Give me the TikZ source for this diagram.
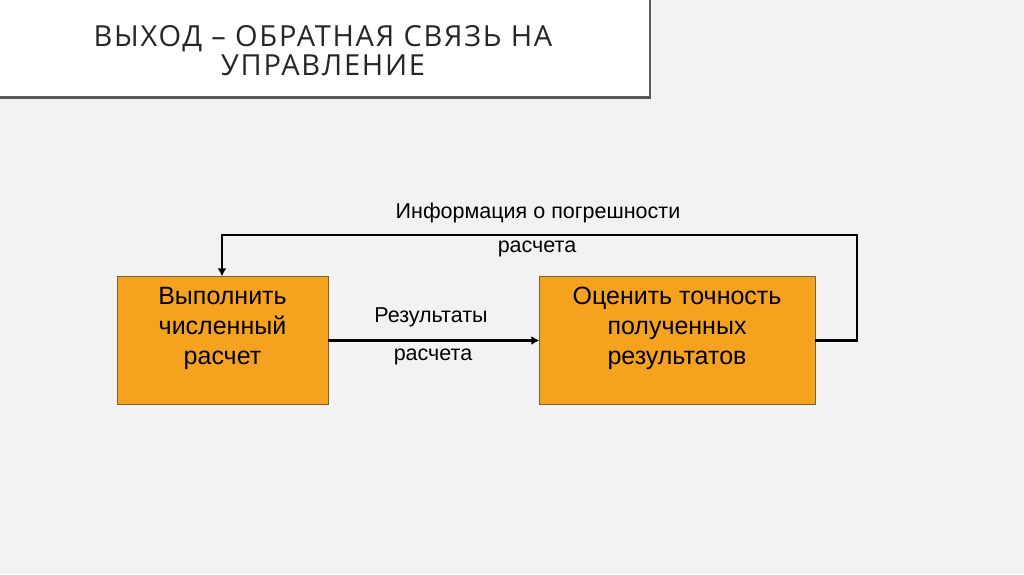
\documentclass[tikz,border=0pt]{standalone}
\usepackage{fontspec}
\setmainfont{Liberation Sans}
\newfontfamily\titlefont[LetterSpace=6]{Open Sans}
\usetikzlibrary{arrows.meta}
\definecolor{bg}{HTML}{F2F2F2}
\definecolor{boxfill}{HTML}{F5A21F}
\definecolor{boxline}{HTML}{7A6230}
\definecolor{titlecol}{HTML}{262626}
\definecolor{shadowcol}{HTML}{5A5A5A}
\tikzset{
  procbox/.style={draw=boxline, line width=0.8pt, fill=boxfill},
  boxtext/.style={align=center, font=\fontsize{25}{30}\selectfont, inner sep=0pt},
  lbl/.style={font=\fontsize{21.5}{24}\selectfont, inner sep=0pt, anchor=base},
  conn/.style={line width=2.5pt, -{Latex[length=8pt,width=9pt]}},
}
\begin{document}
\begin{tikzpicture}[x=1pt,y=-1pt]
\useasboundingbox (0,0) rectangle (1024,574);
\fill[bg] (0,0) rectangle (1024,574);
% title box
\fill[white] (0,0) rectangle (650,97);
\draw[shadowcol, line width=2.5pt] (650,-2) -- (650,97.5) -- (-2,97.5);
\node[align=center, text=titlecol, font=\titlefont\fontsize{29}{29}\selectfont, inner sep=0pt] (title) at (323,51) {ВЫХОД – ОБРАТНАЯ СВЯЗЬ НА\\УПРАВЛЕНИЕ};
% boxes
\draw[procbox] (117,276.5) rectangle (328,404);
\node[draw=none, minimum width=211pt, minimum height=127.5pt, inner sep=0pt] (b1) at (222.5,340.25) {};
\draw[procbox] (539.5,276.5) rectangle (815,404);
\node[draw=none, minimum width=275.5pt, minimum height=127.5pt, inner sep=0pt] (b2) at (677.25,340.25) {};
\node[boxtext] (t1) at (222.5,328) {Выполнить\\численный\\расчет};
\node[boxtext] (t2) at (677,328) {Оценить точность\\полученных\\результатов};
% connectors
\draw[conn] (b1.east |- 0,340.5) -- (b2.west |- 0,340.5);
\coordinate (c1) at (857,340.5);
\coordinate (c2) at (857,235);
\coordinate (c3) at (222,235);
\draw[conn, line join=miter] (b2.east |- c1) -- (c1) -- (c2) -- (c3) -- (b1.north -| c3);
% labels
\node[lbl] (l1) at (538,218) {Информация о погрешности};
\node[lbl] (l2) at (537,252) {расчета};
\node[lbl] (l3) at (431,322) {Результаты};
\node[lbl] (l4) at (433,360) {расчета};
\end{tikzpicture}
\end{document}
